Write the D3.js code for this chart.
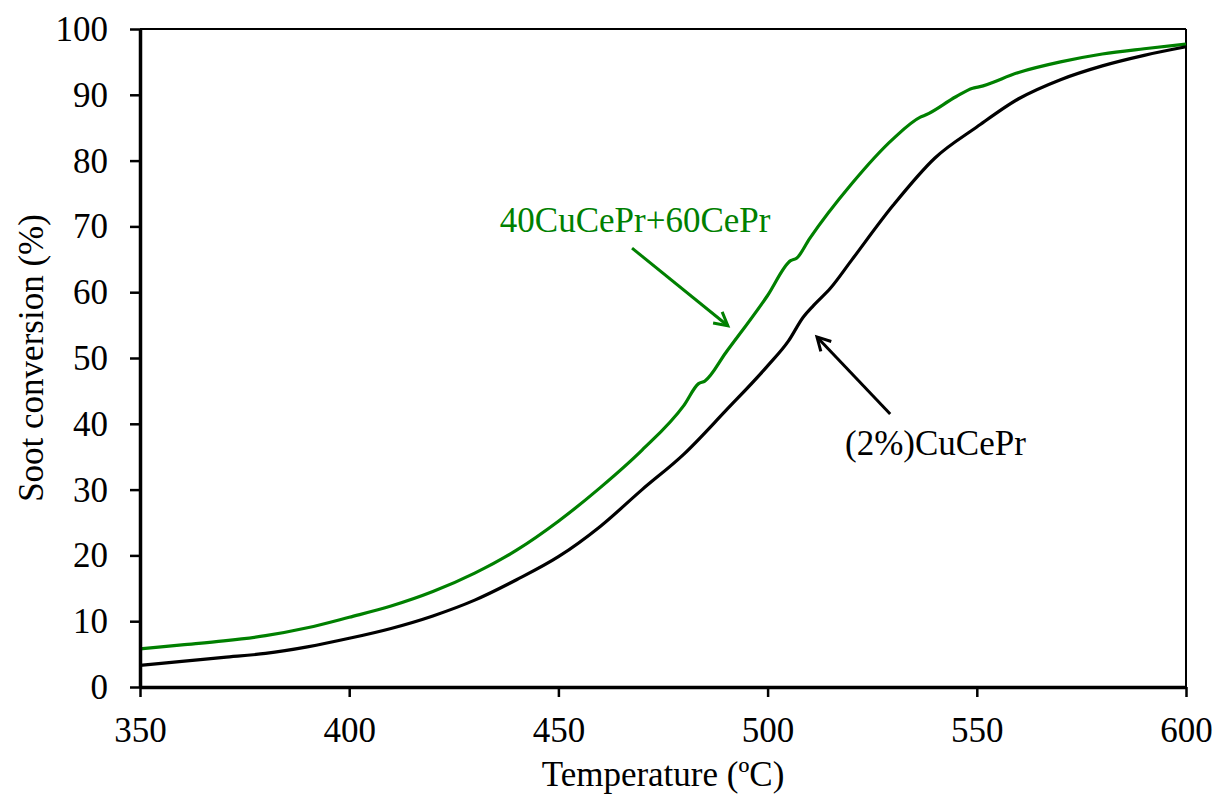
<!DOCTYPE html>
<html>
<head>
<meta charset="utf-8">
<script src="https://cdn.jsdelivr.net/npm/d3@7"></script>
<style>
  body { margin: 0; background: #fff; }
  svg text { font-family: "Liberation Serif", "DejaVu Serif", serif; }
</style>
</head>
<body>
<div id="chart"></div>
<script>
// temperatures (ºC) and soot conversion (%)
let greenT = [350, 360, 370, 380, 390, 400, 410, 420, 430, 440, 450, 460, 470, 480, 483.5, 485, 490, 500, 505.5, 507, 510, 520, 530, 536.5, 538, 545, 549, 550.5, 560, 570, 580, 590, 600];
let greenY = [5.8, 6.4, 7.0, 7.8, 9.0, 10.6, 12.3, 14.5, 17.3, 20.8, 25.2, 30.3, 36.0, 42.8, 46.1, 46.5, 50.8, 59.5, 64.8, 65.2, 68.1, 76.4, 83.3, 86.6, 87.0, 89.7, 91.0, 91.2, 93.4, 95.0, 96.2, 97.0, 97.7];

let blackT = [350, 360, 370, 380, 390, 400, 410, 420, 430, 440, 450, 460, 470, 480, 490, 500, 505, 508.5, 511, 515, 520, 530, 540, 550, 560, 570, 580, 590, 600];
let blackY = [3.3, 3.9, 4.5, 5.1, 6.1, 7.4, 8.9, 10.8, 13.2, 16.3, 19.8, 24.4, 30.0, 35.4, 42.0, 48.8, 52.6, 56.2, 58.0, 60.6, 64.8, 73.2, 80.4, 85.1, 89.4, 92.3, 94.4, 96.0, 97.3];

let xTicks = [350, 400, 450, 500, 550, 600];
let yTicks = [0, 10, 20, 30, 40, 50, 60, 70, 80, 90, 100];

let seriesNames = ["40CuCePr+60CePr", "(2%)CuCePr"];
let seriesColors = ["#008000", "#000000"];

let width = 1218, height = 795;
let margin = {top: 29, right: 32, bottom: 108, left: 140};
let fs = 35;

let x = d3.scaleLinear().domain([350, 600]).range([margin.left, width - margin.right]);
let y = d3.scaleLinear().domain([0, 100]).range([height - margin.bottom, margin.top]);

const svg = d3.select("#chart").append("svg")
  .attr("width", width)
  .attr("height", height);

svg.append("rect").attr("width", width).attr("height", height).attr("fill", "#fff");

// plot border (top and right)
svg.append("line")
  .attr("x1", x(350)).attr("x2", x(600))
  .attr("y1", y(100)).attr("y2", y(100))
  .attr("stroke", "#000").attr("stroke-width", 2);
svg.append("line")
  .attr("x1", x(600)).attr("x2", x(600))
  .attr("y1", y(100)).attr("y2", y(0))
  .attr("stroke", "#000").attr("stroke-width", 2);

let xAxis = g => g
  .attr("transform", `translate(0,${y(0)})`)
  .call(d3.axisBottom(x).tickValues(xTicks).tickSize(10).tickSizeOuter(0).tickPadding(20))
  .call(g => g.select(".domain").attr("stroke-width", 3.5))
  .call(g => g.selectAll(".tick line").attr("stroke-width", 2.5))
  .call(g => g.selectAll(".tick text").attr("font-size", fs).attr("fill", "#000")
      .attr("font-family", "Liberation Serif"));

let yAxis = g => g
  .attr("transform", `translate(${x(350)},0)`)
  .call(d3.axisLeft(y).tickValues(yTicks).tickSize(10).tickSizeOuter(0).tickPadding(22))
  .call(g => g.select(".domain").attr("stroke-width", 3.5))
  .call(g => g.selectAll(".tick line").attr("stroke-width", 2.5))
  .call(g => g.selectAll(".tick text").attr("font-size", fs).attr("fill", "#000")
      .attr("font-family", "Liberation Serif").attr("dy", "0.33em"));

let line = d3.line()
  .x(d => x(d[0]))
  .y(d => y(d[1]))
  .curve(d3.curveMonotoneX);

let series = [
  d3.zip(greenT, greenY),
  d3.zip(blackT, blackY)
];

svg.append("g")
  .selectAll("path")
  .data(series)
  .join("path")
  .attr("fill", "none")
  .attr("stroke", (d, i) => seriesColors[i])
  .attr("stroke-width", 3.2)
  .attr("stroke-linejoin", "round")
  .attr("d", line);

svg.append("g").call(xAxis);
svg.append("g").call(yAxis);

// axis titles
svg.append("text")
  .attr("text-anchor", "middle")
  .attr("x", (x(350) + x(600)) / 2)
  .attr("y", 786)
  .attr("font-size", fs)
  .text("Temperature (ºC)");

svg.append("text")
  .attr("text-anchor", "middle")
  .attr("transform", `translate(43,${(y(0) + y(100)) / 2}) rotate(-90)`)
  .attr("font-size", fs)
  .text("Soot conversion (%)");

// annotations: label position and arrow (from, to) in data units
let notes = [
  {text: seriesNames[0], color: seriesColors[0], tx: 436, ty: 69.1, from: [467.6, 66.7], to: [490.5, 54.9]},
  {text: seriesNames[1], color: seriesColors[1], tx: 518.5, ty: 35.2, from: [529.3, 41.5], to: [511.8, 53.2]}
];

notes.forEach(n => {
  svg.append("text")
    .attr("x", x(n.tx))
    .attr("y", y(n.ty))
    .attr("font-size", fs)
    .attr("fill", n.color)
    .text(n.text);

  let x1 = x(n.from[0]), y1 = y(n.from[1]);
  let x2 = x(n.to[0]), y2 = y(n.to[1]);
  let ang = Math.atan2(y2 - y1, x2 - x1);
  let head = 15, spread = 0.5;
  svg.append("line")
    .attr("x1", x1).attr("y1", y1).attr("x2", x2).attr("y2", y2)
    .attr("stroke", n.color).attr("stroke-width", 3);
  svg.append("path")
    .attr("d", `M${x2 - head * Math.cos(ang - spread)},${y2 - head * Math.sin(ang - spread)}L${x2},${y2}L${x2 - head * Math.cos(ang + spread)},${y2 - head * Math.sin(ang + spread)}`)
    .attr("fill", "none")
    .attr("stroke", n.color)
    .attr("stroke-width", 3)
    .attr("stroke-linejoin", "miter");
});
</script>
</body>
</html>
